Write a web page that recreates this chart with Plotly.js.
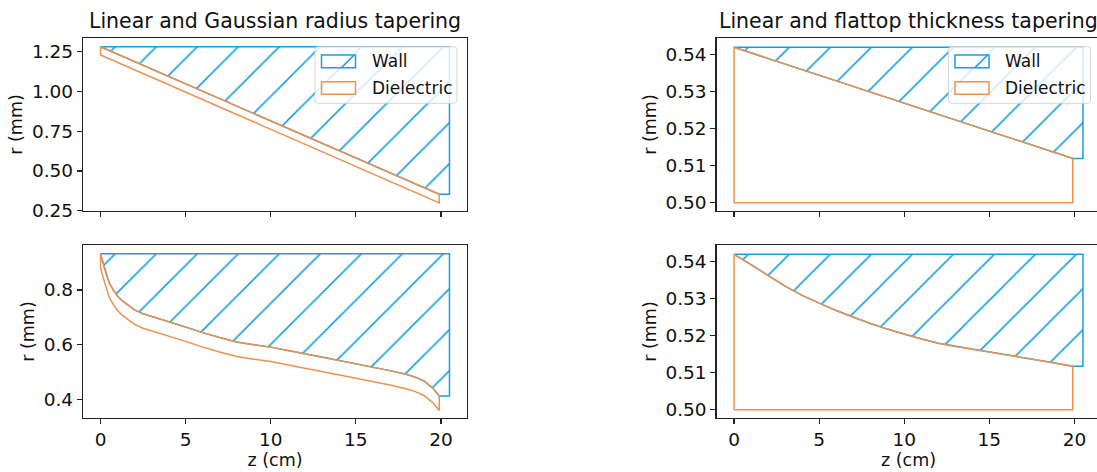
<!DOCTYPE html>
<html><head><meta charset="utf-8">
<script src="https://cdn.plot.ly/plotly-3.0.1.min.js"></script>
<style>html,body{margin:0;padding:0;overflow:hidden;background:#fff}#chart{width:1110px;height:472px}</style>
</head><body><div id="chart"></div>
<script>
// ---------------- data ----------------
const panelTitles = ['Linear and Gaussian radius tapering', 'Linear and flattop thickness tapering'];
const seriesNames = ['Wall', 'Dielectric'];
const xTitle = 'z (cm)';
const yTitle = 'r (mm)';
const xTicks = [0, 5, 10, 15, 20];

const zWallEnd = 20.5;

// top-left: linear radius tapering
const zLinR = [0, 19.9];
const rOuterLinR = [1.281, 0.353];
const rInnerLinR = [1.229, 0.299];

// bottom-left: Gaussian radius tapering
const zGauss = [0, 0.1, 0.25, 0.5, 0.75, 1, 1.25, 1.5, 2, 2.5, 3, 4, 5, 6, 7, 8, 9, 10, 11, 12, 13, 14, 15, 16, 17, 18, 18.5, 19, 19.5, 19.9];
const rOuterGauss = [0.933, 0.910, 0.875, 0.828, 0.800, 0.778, 0.762, 0.750, 0.727, 0.713, 0.703, 0.684, 0.665, 0.644, 0.626, 0.610, 0.600, 0.591, 0.579, 0.567, 0.555, 0.543, 0.531, 0.518, 0.505, 0.491, 0.481, 0.467, 0.442, 0.412];
const rInnerGauss = [0.880, 0.857, 0.822, 0.775, 0.747, 0.725, 0.709, 0.697, 0.674, 0.660, 0.650, 0.631, 0.612, 0.591, 0.573, 0.557, 0.547, 0.538, 0.526, 0.514, 0.502, 0.490, 0.478, 0.465, 0.452, 0.438, 0.428, 0.414, 0.389, 0.359];

// top-right: linear thickness tapering
const zLinT = [0, 19.9];
const rOuterLinT = [0.542, 0.512];
// bottom-right: flattop thickness tapering
const zFlat = [0, 1, 2, 3, 4, 5, 6, 7, 8, 9, 10, 11, 12, 13, 14, 15, 16, 17, 18, 19, 19.9];
const rOuterFlat = [0.5420, 0.5392, 0.5364, 0.5334, 0.5309, 0.5288, 0.5268, 0.5250, 0.5233, 0.5218, 0.5204, 0.5191, 0.5180, 0.5171, 0.5164, 0.5156, 0.5148, 0.5141, 0.5133, 0.5125, 0.5118];
const rBase = 0.500;

// ---------------- style ----------------
const BLUE = '#1a9fdb';
const ORANGE = '#ef9150';
const FONT = 'DejaVu Sans, sans-serif';
const TXT = '#111';
const W = 1110, H = 472;
const TICK_SIZE = 18.5, LABEL_SIZE = 17.5, LEGEND_SIZE = 17, TITLE_SIZE = 20.5;

function wallTrace(z, outer, xa, ya) {
  const top = outer[0];
  const last = outer[outer.length - 1];
  const xs = [0, zWallEnd, zWallEnd].concat(z.slice().reverse());
  const ys = [top, top, last].concat(outer.slice().reverse());
  xs.push(xs[0]); ys.push(ys[0]);
  return {
    type: 'scatter', mode: 'lines', x: xs, y: ys, xaxis: xa, yaxis: ya,
    name: seriesNames[0], showlegend: false,
    fill: 'toself', fillcolor: 'rgba(0,0,0,0)',
    fillpattern: {shape: '/', fgcolor: BLUE, bgcolor: 'rgba(0,0,0,0)', size: 29, solidity: 0.055},
    line: {color: BLUE, width: 1.5}, hoverinfo: 'skip'
  };
}
function dielTraceShell(z, outer, inner, xa, ya) {
  const xs = z.concat(z.slice().reverse());
  const ys = outer.concat(inner.slice().reverse());
  xs.push(xs[0]); ys.push(ys[0]);
  return {
    type: 'scatter', mode: 'lines', x: xs, y: ys, xaxis: xa, yaxis: ya,
    name: seriesNames[1], showlegend: false,
    line: {color: ORANGE, width: 1.5}, hoverinfo: 'skip'
  };
}
function dielTraceSolid(z, outer, xa, ya) {
  const xs = [0].concat(z, [z[z.length - 1]]);
  const ys = [rBase].concat(outer, [rBase]);
  xs.push(xs[0]); ys.push(ys[0]);
  return {
    type: 'scatter', mode: 'lines', x: xs, y: ys, xaxis: xa, yaxis: ya,
    name: seriesNames[1], showlegend: false,
    line: {color: ORANGE, width: 1.5}, hoverinfo: 'skip'
  };
}

const traces = [
  wallTrace(zLinR, rOuterLinR, 'x', 'y'),
  dielTraceShell(zLinR, rOuterLinR, rInnerLinR, 'x', 'y'),
  wallTrace(zGauss, rOuterGauss, 'x3', 'y3'),
  dielTraceShell(zGauss, rOuterGauss, rInnerGauss, 'x3', 'y3'),
  wallTrace(zLinT, rOuterLinT, 'x2', 'y2'),
  dielTraceSolid(zLinT, rOuterLinT, 'x2', 'y2'),
  wallTrace(zFlat, rOuterFlat, 'x4', 'y4'),
  dielTraceSolid(zFlat, rOuterFlat, 'x4', 'y4')
];

// panel frames in px
const LEFT_X = [83, 467], RIGHT_X = [716.5, 1100.5];
const TOP_Y = [38, 211], BOT_Y = [245, 418];
const px = v => v / W;
const py = v => 1 - v / H;
const colL = [px(LEFT_X[0]), px(LEFT_X[1])];
const colR = [px(RIGHT_X[0]), px(RIGHT_X[1])];
const rowT = [py(TOP_Y[1]), py(TOP_Y[0])];
const rowB = [py(BOT_Y[1]), py(BOT_Y[0])];
const xRange = [-1.03, 21.53];

const tickFont = {family: FONT, size: TICK_SIZE, color: TXT};
function xax(domain, anchor, labels) {
  return {
    domain: domain, anchor: anchor, range: xRange, tickmode: 'array', tickvals: xTicks,
    ticks: 'outside', ticklen: 5, tickwidth: 1.2, tickcolor: '#222',
    showticklabels: labels, tickfont: tickFont,
    showline: true, mirror: true, linecolor: '#222', linewidth: 1.2,
    showgrid: false, zeroline: false,
    title: labels ? {text: xTitle, font: {family: FONT, size: LABEL_SIZE, color: TXT}, standoff: 4} : {text: ''}
  };
}
function yax(domain, anchor, range, dtick, tick0, fmt) {
  return {
    domain: domain, anchor: anchor, range: range, tickmode: 'linear', dtick: dtick, tick0: tick0,
    tickformat: fmt, ticks: 'outside', ticklen: 5, tickwidth: 1.2, tickcolor: '#222',
    tickfont: tickFont, showline: true, mirror: true, linecolor: '#222', linewidth: 1.2,
    showgrid: false, zeroline: false,
    title: {text: yTitle, font: {family: FONT, size: LABEL_SIZE, color: TXT}, standoff: 4}
  };
}

// ---------- manual matplotlib-style legends (layout decoration) ----------
const shapes = [];
const annotations = [];
function roundRectPath(x0, y0, x1, y1, r) {
  const P = (x, y) => px(x) + ',' + py(y);
  return 'M' + P(x0 + r, y0) + ' L' + P(x1 - r, y0) + ' Q' + P(x1, y0) + ' ' + P(x1, y0 + r) +
    ' L' + P(x1, y1 - r) + ' Q' + P(x1, y1) + ' ' + P(x1 - r, y1) +
    ' L' + P(x0 + r, y1) + ' Q' + P(x0, y1) + ' ' + P(x0, y1 - r) +
    ' L' + P(x0, y0 + r) + ' Q' + P(x0, y0) + ' ' + P(x0 + r, y0) + ' Z';
}
function addLegend(axRight, axTop) {
  const bx0 = axRight - 152, bx1 = axRight - 10, by0 = axTop + 8.7, by1 = axTop + 65.3;
  shapes.push({type: 'path', xref: 'paper', yref: 'paper', layer: 'above',
    path: roundRectPath(bx0, by0, bx1, by1, 3),
    fillcolor: 'rgba(255,255,255,0.8)', line: {color: 'rgba(204,204,204,0.8)', width: 1}});
  const hx0 = axRight - 145.5, hx1 = axRight - 111.5;
  const rows = [[axTop + 17, axTop + 29.7, BLUE], [axTop + 43.7, axTop + 56.3, ORANGE]];
  rows.forEach((r, i) => {
    shapes.push({type: 'rect', xref: 'paper', yref: 'paper', layer: 'above',
      x0: px(hx0), x1: px(hx1), y0: py(r[1]), y1: py(r[0]),
      fillcolor: 'rgba(0,0,0,0)', line: {color: r[2], width: 1.5}});
    annotations.push({text: seriesNames[i], xref: 'paper', yref: 'paper',
      x: px(axRight - 97.5), y: py((r[0] + r[1]) / 2), xanchor: 'left', yanchor: 'middle',
      showarrow: false, font: {family: FONT, size: LEGEND_SIZE, color: TXT}});
  });
  const hh = rows[0][1] - rows[0][0];
  shapes.push({type: 'line', xref: 'paper', yref: 'paper', layer: 'above',
    x0: px(hx0 + 20), y0: py(rows[0][1]), x1: px(hx0 + 20 + hh), y1: py(rows[0][0]),
    line: {color: BLUE, width: 1.5}});
}
addLegend(LEFT_X[1], TOP_Y[0]);
addLegend(RIGHT_X[1], TOP_Y[0]);

[[colL, panelTitles[0]], [colR, panelTitles[1]]].forEach(([c, t]) => {
  annotations.push({text: t, xref: 'paper', yref: 'paper', x: (c[0] + c[1]) / 2, y: rowT[1],
    xanchor: 'center', yanchor: 'bottom', yshift: 3, showarrow: false,
    font: {family: FONT, size: TITLE_SIZE, color: TXT}});
});

const layout = {
  width: W, height: H, margin: {l: 0, r: 0, t: 0, b: 0},
  paper_bgcolor: '#fff', plot_bgcolor: 'rgba(0,0,0,0)',
  font: {family: FONT, color: TXT}, showlegend: false,
  xaxis: xax(colL, 'y', false),
  yaxis: yax(rowT, 'x', [0.248, 1.336], 0.25, 0.25, '.2f'),
  xaxis2: xax(colR, 'y2', false),
  yaxis2: yax(rowT, 'x2', [0.4978, 0.5445], 0.01, 0.5, '.2f'),
  xaxis3: xax(colL, 'y3', true),
  yaxis3: yax(rowB, 'x3', [0.3316, 0.9647], 0.2, 0.4, '.1f'),
  xaxis4: xax(colR, 'y4', true),
  yaxis4: yax(rowB, 'x4', [0.4978, 0.5445], 0.01, 0.5, '.2f'),
  shapes: shapes,
  annotations: annotations
};

Plotly.newPlot('chart', traces, layout, {displayModeBar: false, staticPlot: true});
</script>
</body></html>
